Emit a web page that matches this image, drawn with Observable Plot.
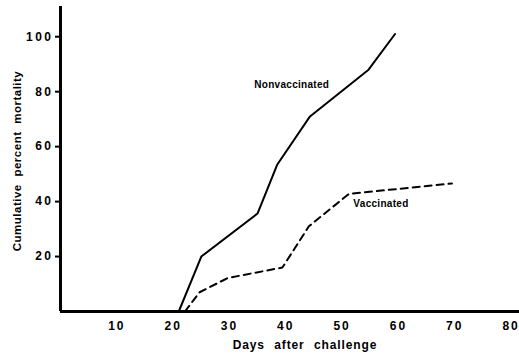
<!DOCTYPE html>
<html>
<head>
<meta charset="utf-8">
<script src="https://cdn.jsdelivr.net/npm/d3@7"></script>
<script src="https://cdn.jsdelivr.net/npm/@observablehq/plot@0.6"></script>
<style>
  html, body { margin: 0; padding: 0; background: #fff; }
  svg { display: block; }
  g[aria-label="x-axis tick label"] text { letter-spacing: 2px; }
  g[aria-label="y-axis tick label"] text { letter-spacing: 2.5px; }
  g[aria-description="x title"] text { letter-spacing: 0.9px; word-spacing: 5px; }
  g[aria-description="y title"] text { letter-spacing: 0.5px; word-spacing: 4px; }
  g[aria-description="series labels"] text { letter-spacing: 0.3px; }
</style>
</head>
<body>
<div id="chart"></div>
<script>
// Data
const nonvaccDays = [21, 25, 35, 38.5, 44.3, 54.7, 59.4];
const nonvaccMort = [0, 20, 35.7, 53.5, 71, 88, 101];
const vaccDays = [22.1, 24.7, 29.7, 39.4, 44.1, 51.2, 69.5];
const vaccMort = [0, 7, 12.2, 16, 31, 42.8, 46.6];
const xTicks = [10, 20, 30, 40, 50, 60, 70, 80];
const yTicks = [20, 40, 60, 80, 100];
const seriesLabels = ["Nonvaccinated", "Vaccinated"];
const labelDays = [34.4, 52];
const labelMort = [82.5, 39.2];

const nonvacc = nonvaccDays.map((d, i) => ({day: d, mort: nonvaccMort[i]}));
const vacc = vaccDays.map((d, i) => ({day: d, mort: vaccMort[i]}));
const labels = seriesLabels.map((t, i) => ({t, day: labelDays[i], mort: labelMort[i]}));

const chart = Plot.plot({
  width: 519,
  height: 357,
  marginLeft: 60,
  marginRight: 0,
  marginTop: 6,
  marginBottom: 46,
  style: {fontFamily: "Liberation Sans, Arial, sans-serif", fontWeight: "bold", fontSize: "12px", color: "#000", background: "#fff"},
  x: {domain: [0, 81.5], label: null},
  y: {domain: [0, 111], label: null},
  marks: [
    Plot.axisX({ticks: xTicks, tickSize: 0, tickPadding: 10, fontSize: 12, label: null}),
    Plot.axisY({ticks: yTicks, tickSize: 5, tickPadding: 2, strokeWidth: 2, fontSize: 12, label: null}),
    Plot.text(["Days after challenge"], {frameAnchor: "bottom", dy: 37, dx: 15, text: d => d, fontSize: 12, fontWeight: "bold", ariaDescription: "x title"}),
    Plot.text(["Cumulative percent mortality"], {frameAnchor: "left", textAnchor: "middle", dx: -43, dy: 2, rotate: -90, text: d => d, fontSize: 11.5, fontWeight: "bold", ariaDescription: "y title"}),
    Plot.ruleY([0], {strokeWidth: 3}),
    Plot.ruleX([0], {strokeWidth: 3}),
    Plot.line(nonvacc, {x: "day", y: "mort", strokeWidth: 2}),
    Plot.line(vacc, {x: "day", y: "mort", strokeWidth: 2, strokeDasharray: "7,5"}),
    Plot.text(labels, {x: "day", y: "mort", text: "t", textAnchor: "start", fontSize: 10, fontWeight: "bold", ariaDescription: "series labels"})
  ]
});
document.getElementById("chart").appendChild(chart);
</script>
</body>
</html>
